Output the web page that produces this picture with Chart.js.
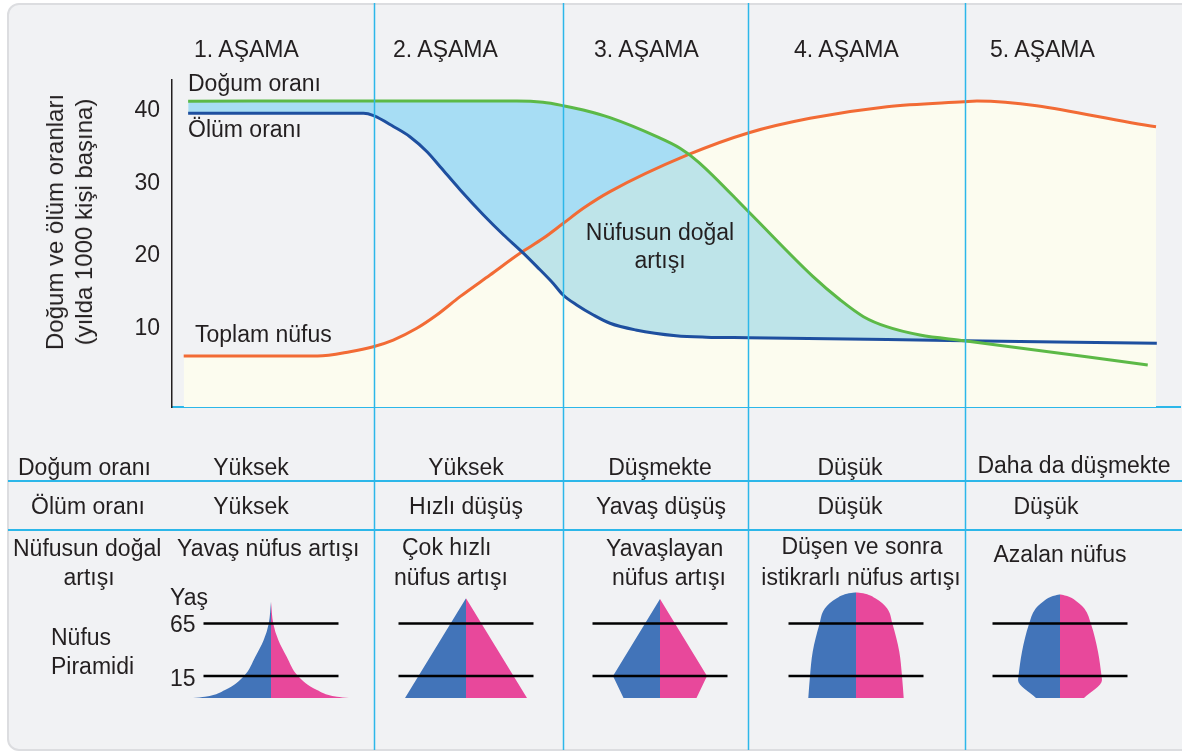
<!DOCTYPE html>
<html lang="tr">
<head>
<meta charset="utf-8">
<title>Demografik dönüşüm modeli</title>
<script src="https://cdn.jsdelivr.net/npm/chart.js@4.4.1/dist/chart.umd.min.js"></script>
<style>
  html, body { margin: 0; padding: 0; background: #fff; }
  body {
    position: relative; width: 1182px; height: 755px; overflow: hidden;
    font-family: "Liberation Sans", Arial, sans-serif; color: #231f20;
  }
  #panel {
    position: absolute; left: 7px; top: 3px; width: 1200px; height: 748px;
    box-sizing: border-box; background: #f1f2f4;
    border: 2px solid #dcdde0; border-radius: 12px;
  }
  canvas { position: absolute; }
  .hline { position: absolute; left: 8px; width: 1174px; height: 2px; background: #2cb7e9; }
  .t { position: absolute; font-size: 23px; line-height: 23px; white-space: nowrap; }
  .c { transform: translateX(-50%); }
  .ytitle {
    font-size: 24px; line-height: 29px; text-align: center;
    transform: translate(-50%, -50%) rotate(-90deg);
  }
</style>
</head>
<body>
<div id="panel"></div>
<div class="hline" style="top:480px"></div>
<div class="hline" style="top:529px"></div>

<canvas id="mainChart" width="1182" height="755" style="left:0;top:0"></canvas>
<canvas id="pyr1" width="180" height="111"></canvas>
<canvas id="pyr2" width="180" height="111"></canvas>
<canvas id="pyr3" width="180" height="111"></canvas>
<canvas id="pyr4" width="180" height="111"></canvas>
<canvas id="pyr5" width="180" height="111"></canvas>

<!-- chart texts (top = baseline - 19.5) -->
<div class="t ytitle" style="left:69px;top:222px">Doğum ve ölüm oranları<br>(yılda 1000 kişi başına)</div>
<div class="t" style="left:194px;top:38px">1. AŞAMA</div>
<div class="t" style="left:393px;top:38px">2. AŞAMA</div>
<div class="t" style="left:594px;top:38px">3. AŞAMA</div>
<div class="t" style="left:794px;top:38px">4. AŞAMA</div>
<div class="t" style="left:990px;top:38px">5. AŞAMA</div>
<div class="t" style="left:188px;top:72px">Doğum oranı</div>
<div class="t" style="left:188px;top:118px">Ölüm oranı</div>
<div class="t" style="left:195px;top:323px">Toplam nüfus</div>
<div class="t c" style="left:660px;top:221px">Nüfusun doğal</div>
<div class="t c" style="left:660px;top:249px">artışı</div>

<!-- table row 1 -->
<div class="t" style="left:18px;top:456px">Doğum oranı</div>
<div class="t c" style="left:251px;top:456px">Yüksek</div>
<div class="t c" style="left:466px;top:456px">Yüksek</div>
<div class="t c" style="left:660px;top:456px">Düşmekte</div>
<div class="t c" style="left:850px;top:456px">Düşük</div>
<div class="t c" style="left:1074px;top:454px">Daha da düşmekte</div>
<!-- table row 2 -->
<div class="t c" style="left:88px;top:495px">Ölüm oranı</div>
<div class="t c" style="left:251px;top:495px">Yüksek</div>
<div class="t c" style="left:466px;top:495px">Hızlı düşüş</div>
<div class="t c" style="left:661px;top:495px">Yavaş düşüş</div>
<div class="t c" style="left:850px;top:495px">Düşük</div>
<div class="t c" style="left:1046px;top:495px">Düşük</div>
<!-- table row 3 -->
<div class="t" style="left:13px;top:537px">Nüfusun doğal</div>
<div class="t c" style="left:89px;top:566px">artışı</div>
<div class="t" style="left:177px;top:537px">Yavaş nüfus artışı</div>
<div class="t" style="left:402px;top:536px">Çok hızlı</div>
<div class="t" style="left:394px;top:566px">nüfus artışı</div>
<div class="t" style="left:606px;top:537px">Yavaşlayan</div>
<div class="t" style="left:612px;top:566px">nüfus artışı</div>
<div class="t c" style="left:862px;top:535px">Düşen ve sonra</div>
<div class="t c" style="left:861px;top:566px">istikrarlı nüfus artışı</div>
<div class="t c" style="left:1060px;top:543px">Azalan nüfus</div>
<div class="t" style="left:170px;top:586px">Yaş</div>
<div class="t" style="left:170px;top:613px">65</div>
<div class="t" style="left:170px;top:667px">15</div>
<div class="t" style="left:51px;top:626px">Nüfus</div>
<div class="t" style="left:51px;top:655px">Piramidi</div>

<script>
// x: time axis 0..100 across the stages, y: rate per 1000 people
const stageBounds = [20.04, 38.8, 57.14, 78.67];
const yTicks = [10, 20, 30, 40];

const birthX    = [1.6, 20, 34.2, 36.8, 38.8, 40.8, 43.45, 48.1, 50.4, 52.2, 57.2, 63.6, 66.3, 68.6, 70.9, 74.2, 78.6, 96.8];
const birthRate = [41.35, 41.4, 41.38, 41.2, 40.74, 40.14, 39.08, 36.46, 34.86, 33.0, 26.1, 17.15, 13.93, 11.63, 10.25, 9.1, 8.32, 4.97];

const deathX    = [1.6, 19.0, 20.0, 22.0, 23.6, 25.3, 26.6, 28.6, 30.9, 32.9, 34.7, 36.2, 37.8, 38.8, 40.15, 41.8, 43.45, 46, 50, 53, 57.2, 78.6, 97.7];
const deathRate = [39.69, 39.69, 39.36, 37.84, 36.46, 34.39, 32.32, 29.11, 25.66, 22.9, 20.6, 18.53, 16.24, 14.62, 13.24, 11.86, 10.72, 9.8, 9.0, 8.8, 8.73, 8.32, 7.96];

const popX      = [1.16, 14.44, 17.66, 19.97, 21.95, 24.28, 26.26, 28.57, 31.55, 34.52, 36.83, 38.82, 40.8, 43.45, 51.14, 57.24, 63.29, 70.93, 78.57, 79.86, 97.62];
const totalPop  = [6.21, 6.21, 6.8, 7.49, 8.41, 10.03, 11.86, 14.39, 17.38, 20.37, 22.44, 24.51, 26.58, 28.88, 33.94, 37.01, 39.0, 40.6, 41.29, 41.39, 37.84];

// population pyramids: height level (0 = base, 21 = age 15, 71 = age 65) and half width
const ageLineLevel = [21, 71];
const pyr1Level = [0, 1.2, 7.6, 21, 39.3, 55.2, 70.8, 91.7];
const pyr1Width = [78, 66, 46, 27, 15.7, 7.3, 2.3, 0];
const pyr2Level = [0, 95];
const pyr2Width = [61, 0];
const pyr3Level = [0, 21, 94.3];
const pyr3Width = [36.5, 47, 0];
const pyr4Level = [0, 21, 44, 70.5, 85.4, 95, 99.3, 100.7];
const pyr4Width = [47.7, 46, 43.3, 36.5, 31, 19.3, 9, 0];
const pyr5Level = [0, 17.1, 21.2, 44, 70.5, 85, 91.7, 96.5, 98.8];
const pyr5Width = [24, 42, 41.5, 38, 31, 24.5, 17, 9, 0];

const CYAN = '#2cb7e9';
const TEXT = '#231f20';

function toPoints(xs, ys) {
    return xs.map((x, i) => ({ x: x, y: ys[i] }));
}

// where the natural increase area lies under the population curve it turns teal
const overlapPlugin = {
    id: 'overlap',
    beforeDatasetsDraw(chart) {
        const ctx = chart.ctx;
        const area = chart.chartArea;
        const green = chart.getDatasetMeta(0).dataset;
        const blue = chart.getDatasetMeta(1).dataset;
        const orange = chart.getDatasetMeta(2).dataset;
        [green, blue, orange].forEach(l => l.updateControlPoints(area, 'x'));

        ctx.save();
        [orange, green].forEach(line => {
            const pts = line.points;
            ctx.beginPath();
            line.path(ctx);
            ctx.lineTo(pts[pts.length - 1].x, area.bottom);
            ctx.lineTo(pts[0].x, area.bottom);
            ctx.closePath();
            ctx.clip();
        });
        const bp = blue.points;
        ctx.beginPath();
        blue.path(ctx);
        ctx.lineTo(bp[bp.length - 1].x, area.top);
        ctx.lineTo(bp[0].x, area.top);
        ctx.closePath();
        ctx.fillStyle = '#bee4e9';
        ctx.fill();
        ctx.restore();
    }
};

const stageLines = {
    id: 'stageLines',
    afterDatasetsDraw(chart) {
        const ctx = chart.ctx;
        const xScale = chart.scales.x;
        ctx.save();
        ctx.strokeStyle = CYAN;
        ctx.lineWidth = 1.5;
        stageBounds.forEach(v => {
            const px = Math.round(xScale.getPixelForValue(v)) + 0.5;
            ctx.beginPath();
            ctx.moveTo(px, 3);
            ctx.lineTo(px, 750);
            ctx.stroke();
        });
        ctx.restore();
    }
};

new Chart(document.getElementById('mainChart'), {
    type: 'line',
    data: {
        datasets: [{
            label: 'Doğum oranı',
            data: toPoints(birthX, birthRate),
            borderColor: '#5cb947',
            borderWidth: 3,
            pointRadius: 0,
            cubicInterpolationMode: 'monotone',
            fill: { target: 1, above: '#a7ddf4', below: 'rgba(0,0,0,0)' }
        },
        {
            label: 'Ölüm oranı',
            data: toPoints(deathX, deathRate),
            borderColor: '#1e4f9f',
            borderWidth: 3,
            pointRadius: 0,
            cubicInterpolationMode: 'monotone',
            fill: false
        },
        {
            label: 'Toplam nüfus',
            data: toPoints(popX, totalPop),
            borderColor: '#f26b35',
            borderWidth: 3,
            pointRadius: 0,
            cubicInterpolationMode: 'monotone',
            fill: 'start',
            backgroundColor: '#fcfcef'
        }]
    },
    options: {
        responsive: false,
        animation: false,
        events: [],
        layout: { padding: { left: 0, top: 80, right: 2, bottom: 348 } },
        plugins: {
            legend: { display: false },
            tooltip: { enabled: false },
            filler: { drawTime: 'beforeDatasetsDraw' }
        },
        scales: {
            x: {
                type: 'linear',
                min: 0,
                max: 100,
                afterFit(scale) { scale.height = 0; },
                ticks: { display: false },
                grid: { display: false, drawTicks: false },
                border: { display: true, color: CYAN, width: 2 }
            },
            y: {
                type: 'linear',
                min: -0.83,
                max: 44.28,
                afterFit(scale) { scale.width = 172; },
                afterBuildTicks(scale) { scale.ticks = yTicks.map(v => ({ value: v })); },
                grid: { display: false, drawTicks: false },
                border: { display: true, color: TEXT, width: 1.5 },
                ticks: {
                    color: TEXT,
                    padding: 12,
                    font: { family: 'Liberation Sans', size: 23 }
                }
            }
        }
    },
    plugins: [overlapPlugin, stageLines]
});

// small pyramid charts, one per stage
const pyramidCenters = [271.3, 466, 659.8, 856, 1060.3];

function makePyramid(id, center, levels, widths, curved) {
    const canvas = document.getElementById(id);
    canvas.style.left = (center - 90) + 'px';
    canvas.style.top = '587px';

    const ageLines = ageLineLevel.map(l => ({
        data: [{ x: -67.5, y: l }, { x: 67.5, y: l }],
        borderColor: '#000',
        borderWidth: 2.5,
        pointRadius: 0,
        tension: 0,
        fill: false
    }));
    const half = (sign, color) => ({
        data: levels.map((l, i) => ({ x: sign * widths[i], y: l })),
        borderWidth: 0,
        pointRadius: 0,
        cubicInterpolationMode: curved ? 'monotone' : 'default',
        tension: 0,
        fill: 'origin',
        backgroundColor: color
    });

    new Chart(canvas, {
        type: 'line',
        data: { datasets: [...ageLines, half(-1, '#4274b9'), half(1, '#e8489b')] },
        options: {
            indexAxis: 'y',
            responsive: false,
            animation: false,
            events: [],
            layout: { padding: 0 },
            plugins: { legend: { display: false }, tooltip: { enabled: false } },
            scales: {
                x: { type: 'linear', min: -90, max: 90, display: false },
                y: { type: 'linear', min: 0, max: 105.7, display: false }
            }
        }
    });
}

makePyramid('pyr1', pyramidCenters[0], pyr1Level, pyr1Width, true);
makePyramid('pyr2', pyramidCenters[1], pyr2Level, pyr2Width, false);
makePyramid('pyr3', pyramidCenters[2], pyr3Level, pyr3Width, false);
makePyramid('pyr4', pyramidCenters[3], pyr4Level, pyr4Width, true);
makePyramid('pyr5', pyramidCenters[4], pyr5Level, pyr5Width, true);
</script>
</body>
</html>
